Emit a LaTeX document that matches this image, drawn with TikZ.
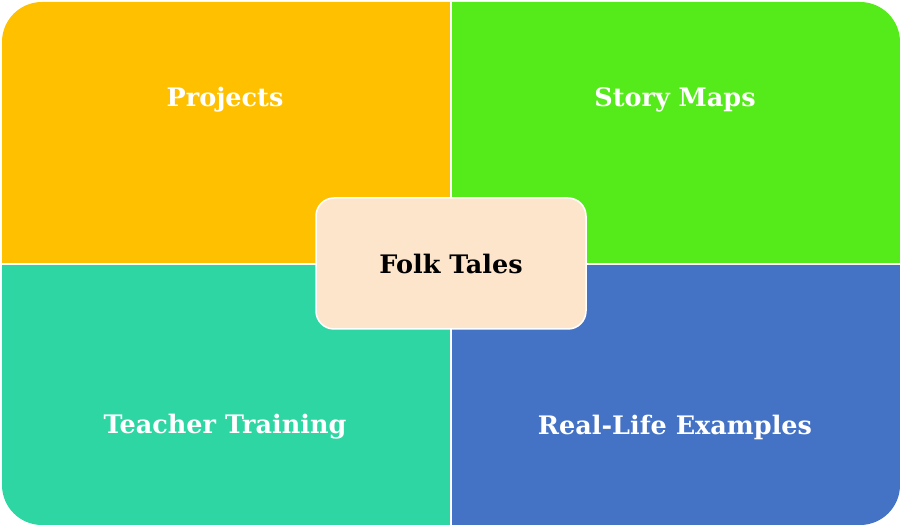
\documentclass[tikz,border=0pt]{standalone}
\usepackage{fontspec}
\setmainfont{DejaVu Serif}
\definecolor{cA}{HTML}{FFC000}
\definecolor{cB}{HTML}{55EA1A}
\definecolor{cC}{HTML}{2ED6A3}
\definecolor{cD}{HTML}{4472C4}
\definecolor{cE}{HTML}{FDE5CB}
\begin{document}
\begin{tikzpicture}[x=1pt,y=1pt,
  lbl/.style={text=white,font=\bfseries\fontsize{25.5}{30}\selectfont},
  quad/.style={draw=white,line width=1.5pt}]
\useasboundingbox (0,0) rectangle (902,527);
\begin{scope}
\clip[rounded corners=40] (2,2) rectangle (900,525);
\fill[cA,quad] (1,263) rectangle (451,526);
\fill[cB,quad] (451,263) rectangle (901,526);
\fill[cC,quad] (1,1) rectangle (451,263);
\fill[cD,quad] (451,1) rectangle (901,263);
\end{scope}
\node[lbl] (p) at (225,427) {Projects};
\node[lbl] (s) at (675,427) {Story Maps};
\node[lbl] (t) at (225,100) {Teacher Training};
\node[lbl] (r) at (675,100) {Real-Life Examples};
\node[draw=white,line width=1.5pt,fill=cE,rounded corners=18,minimum width=270,minimum height=131,
  font=\bfseries\fontsize{25.5}{30}\selectfont] (c) at (451,263.5) {Folk Tales};
\end{tikzpicture}
\end{document}
